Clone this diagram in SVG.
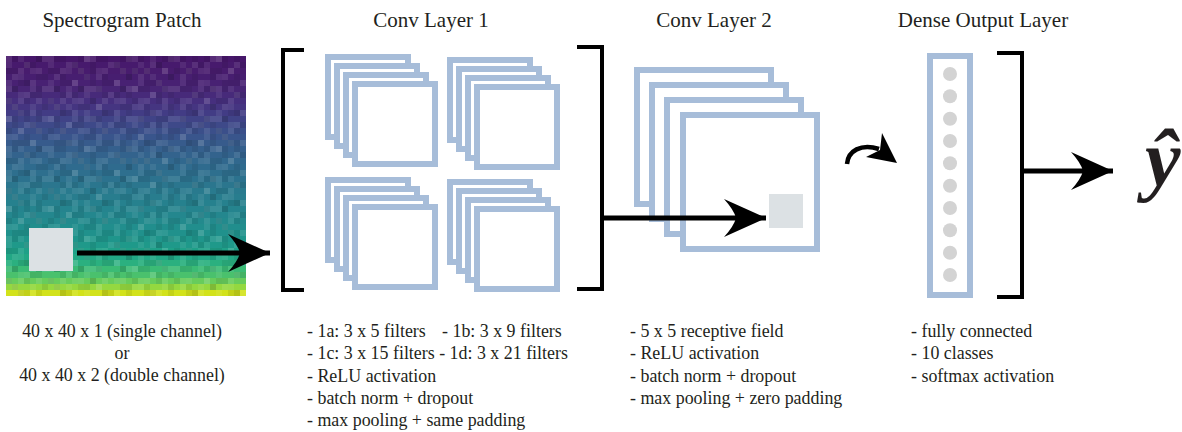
<svg xmlns="http://www.w3.org/2000/svg" width="1182" height="432" viewBox="0 0 1182 432">
<style>
.t{font-family:"Liberation Serif","Times New Roman",serif;fill:#231f20}
.title{font-size:21px;text-anchor:middle}
.note{font-size:17.9px}
.fm{fill:#fff;stroke:#a7bdd9;stroke-width:6}
.br{fill:none;stroke:#000;stroke-width:4}
.ar{stroke:#000;stroke-width:5;fill:none}
.hd{fill:#000}
.dot{fill:#d3d3d3}
.patch{fill:#dce1e4}
</style>
<defs>
<pattern id="nA" x="6" y="56" width="42" height="30" patternUnits="userSpaceOnUse">
<g fill="#fff" fill-opacity="0.09"><rect x="0" y="0" width="6" height="6"/><rect x="18" y="6" width="6" height="6"/><rect x="30" y="12" width="6" height="6"/><rect x="6" y="18" width="6" height="6"/><rect x="24" y="24" width="6" height="6"/><rect x="36" y="0" width="6" height="6"/><rect x="12" y="12" width="6" height="6"/></g>
<g fill="#000" fill-opacity="0.08"><rect x="6" y="0" width="6" height="6"/><rect x="24" y="6" width="6" height="6"/><rect x="0" y="12" width="6" height="6"/><rect x="36" y="18" width="6" height="6"/><rect x="18" y="24" width="6" height="6"/><rect x="12" y="24" width="6" height="6"/><rect x="30" y="0" width="6" height="6"/></g>
</pattern>
<pattern id="nB" x="6" y="56" width="66" height="18" patternUnits="userSpaceOnUse">
<g fill="#fff" fill-opacity="0.07"><rect x="12" y="0" width="6" height="6"/><rect x="42" y="6" width="6" height="6"/><rect x="60" y="12" width="6" height="6"/><rect x="24" y="12" width="6" height="6"/><rect x="0" y="6" width="6" height="6"/></g>
<g fill="#000" fill-opacity="0.07"><rect x="30" y="0" width="6" height="6"/><rect x="54" y="0" width="6" height="6"/><rect x="6" y="12" width="6" height="6"/><rect x="48" y="12" width="6" height="6"/><rect x="18" y="6" width="6" height="6"/></g>
</pattern>
<marker id="head" markerUnits="userSpaceOnUse" markerWidth="50" markerHeight="44" refX="42" refY="20" orient="auto" viewBox="0 0 50 44">
<path d="M42,20 L0,1 Q10,12 12,20 Q10,28 0,39 Z" fill="#000"/>
</marker>
</defs>
<rect width="1182" height="432" fill="#fff"/>

<g id="spectrogram">
<g shape-rendering="crispEdges">
<rect x="6" y="56" width="240" height="6" fill="#46176a"/>
<rect x="6" y="62" width="240" height="6" fill="#471a6d"/>
<rect x="6" y="68" width="240" height="6" fill="#481c6e"/>
<rect x="6" y="74" width="240" height="6" fill="#471e70"/>
<rect x="6" y="80" width="240" height="6" fill="#482173"/>
<rect x="6" y="86" width="240" height="6" fill="#482575"/>
<rect x="6" y="92" width="240" height="6" fill="#472a7a"/>
<rect x="6" y="98" width="240" height="6" fill="#462f7e"/>
<rect x="6" y="104" width="240" height="6" fill="#453581"/>
<rect x="6" y="110" width="240" height="6" fill="#423c85"/>
<rect x="6" y="116" width="240" height="6" fill="#404387"/>
<rect x="6" y="122" width="240" height="6" fill="#3e4989"/>
<rect x="6" y="128" width="240" height="6" fill="#3b4f8a"/>
<rect x="6" y="134" width="240" height="6" fill="#39558c"/>
<rect x="6" y="140" width="240" height="6" fill="#375b8c"/>
<rect x="6" y="146" width="240" height="6" fill="#35608d"/>
<rect x="6" y="152" width="240" height="6" fill="#33638d"/>
<rect x="6" y="158" width="240" height="6" fill="#31688e"/>
<rect x="6" y="164" width="240" height="6" fill="#2f6b8e"/>
<rect x="6" y="170" width="240" height="6" fill="#2e6f8e"/>
<rect x="6" y="176" width="240" height="6" fill="#2c728e"/>
<rect x="6" y="182" width="240" height="6" fill="#2b768e"/>
<rect x="6" y="188" width="240" height="6" fill="#297a8e"/>
<rect x="6" y="194" width="240" height="6" fill="#287d8e"/>
<rect x="6" y="200" width="240" height="6" fill="#26818e"/>
<rect x="6" y="206" width="240" height="6" fill="#25848e"/>
<rect x="6" y="212" width="240" height="6" fill="#24878e"/>
<rect x="6" y="218" width="240" height="6" fill="#238a8d"/>
<rect x="6" y="224" width="240" height="6" fill="#218e8d"/>
<rect x="6" y="230" width="240" height="6" fill="#20918c"/>
<rect x="6" y="236" width="240" height="6" fill="#1f958b"/>
<rect x="6" y="242" width="240" height="6" fill="#1f998a"/>
<rect x="6" y="248" width="240" height="6" fill="#1fa088"/>
<rect x="6" y="254" width="240" height="6" fill="#22a785"/>
<rect x="6" y="260" width="240" height="6" fill="#2bb07f"/>
<rect x="6" y="266" width="240" height="6" fill="#3bbb75"/>
<rect x="6" y="272" width="240" height="6" fill="#4ac16d"/>
<rect x="6" y="278" width="240" height="6" fill="#67cc5c"/>
<rect x="6" y="284" width="240" height="6" fill="#94d840"/>
<rect x="6" y="290" width="240" height="6" fill="#d2e21b"/>
<rect x="6" y="56" width="240" height="240" fill="url(#nA)"/>
<rect x="6" y="56" width="240" height="240" fill="url(#nB)"/>
</g>
<rect class="patch" x="29" y="228" width="44" height="43"/>
<text class="t title" x="122" y="27">Spectrogram Patch</text>
<text class="t note" x="122" y="337" text-anchor="middle">40 x 40 x 1 (single channel)</text>
<text class="t note" x="122" y="359" text-anchor="middle">or</text>
<text class="t note" x="122" y="381" text-anchor="middle">40 x 40 x 2 (double channel)</text>
</g>

<g id="conv1">
<path class="br" d="M304,50 H283 V290 H304"/>
<path class="br" d="M577,47 H602 V289 H577"/>
<g id="conv1a">
<rect class="fm" x="328" y="57" width="80" height="80"/>
<rect class="fm" x="337" y="66" width="80" height="80"/>
<rect class="fm" x="346" y="75" width="80" height="80"/>
<rect class="fm" x="355" y="84" width="80" height="80"/>
</g>
<g id="conv1b">
<rect class="fm" x="450" y="60" width="80" height="80"/>
<rect class="fm" x="459" y="69" width="80" height="80"/>
<rect class="fm" x="468" y="78" width="80" height="80"/>
<rect class="fm" x="477" y="87" width="80" height="80"/>
</g>
<g id="conv1c">
<rect class="fm" x="328" y="180" width="80" height="80"/>
<rect class="fm" x="337" y="189" width="80" height="80"/>
<rect class="fm" x="346" y="198" width="80" height="80"/>
<rect class="fm" x="355" y="207" width="80" height="80"/>
</g>
<g id="conv1d">
<rect class="fm" x="450" y="182" width="80" height="80"/>
<rect class="fm" x="459" y="191" width="80" height="80"/>
<rect class="fm" x="468" y="200" width="80" height="80"/>
<rect class="fm" x="477" y="209" width="80" height="80"/>
</g>
<text class="t title" x="431" y="27">Conv Layer 1</text>
<text class="t note" x="307" y="337">- 1a: 3 x 5 filters</text>
<text class="t note" x="442" y="337">- 1b: 3 x 9 filters</text>
<text class="t note" x="307" y="359">- 1c: 3 x 15 filters - 1d: 3 x 21 filters</text>
<text class="t note" x="307" y="382">- ReLU activation</text>
<text class="t note" x="307" y="404">- batch norm + dropout</text>
<text class="t note" x="307" y="426">- max pooling + same padding</text>
</g>

<g id="conv2">
<rect class="fm" x="637" y="70" width="134" height="134"/>
<rect class="fm" x="652" y="85" width="134" height="134"/>
<rect class="fm" x="667" y="100" width="134" height="134"/>
<rect class="fm" x="683" y="115" width="134" height="134"/>
<rect class="patch" x="769" y="194" width="34" height="34"/>
<text class="t title" x="714" y="27">Conv Layer 2</text>
<text class="t note" x="630" y="337">- 5 x 5 receptive field</text>
<text class="t note" x="630" y="359">- ReLU activation</text>
<text class="t note" x="630" y="382">- batch norm + dropout</text>
<text class="t note" x="630" y="404">- max pooling + zero padding</text>
</g>

<g id="dense">
<rect class="fm" x="930" y="56" width="40" height="239"/>
<circle class="dot" cx="950" cy="74" r="7"/>
<circle class="dot" cx="950" cy="96.3" r="7"/>
<circle class="dot" cx="950" cy="118.7" r="7"/>
<circle class="dot" cx="950" cy="141" r="7"/>
<circle class="dot" cx="950" cy="163.3" r="7"/>
<circle class="dot" cx="950" cy="185.7" r="7"/>
<circle class="dot" cx="950" cy="208" r="7"/>
<circle class="dot" cx="950" cy="230.3" r="7"/>
<circle class="dot" cx="950" cy="252.7" r="7"/>
<circle class="dot" cx="950" cy="275" r="7"/>
<path class="br" d="M997,53 H1022 V297 H997"/>
<text class="t title" x="983" y="27">Dense Output Layer</text>
<text class="t note" x="911" y="337">- fully connected</text>
<text class="t note" x="911" y="359">- 10 classes</text>
<text class="t note" x="911" y="382">- softmax activation</text>
</g>

<g id="output">
<text class="t" x="1145" y="186" font-size="80" font-weight="bold" font-style="italic">ŷ</text>
</g>

<g id="connectors">
<path class="ar" d="M77,253 H270" marker-end="url(#head)"/>
<path class="ar" d="M602,218 H766" marker-end="url(#head)"/>
<path class="ar" d="M1022,171 H1113" marker-end="url(#head)"/>
<path d="M847,164 C848,151 861,143 879,149" stroke="#000" stroke-width="4.5" fill="none"/>
<path class="hd" d="M897,163 L882,133 L880,150 L866,157 Z"/>
</g>
</svg>
